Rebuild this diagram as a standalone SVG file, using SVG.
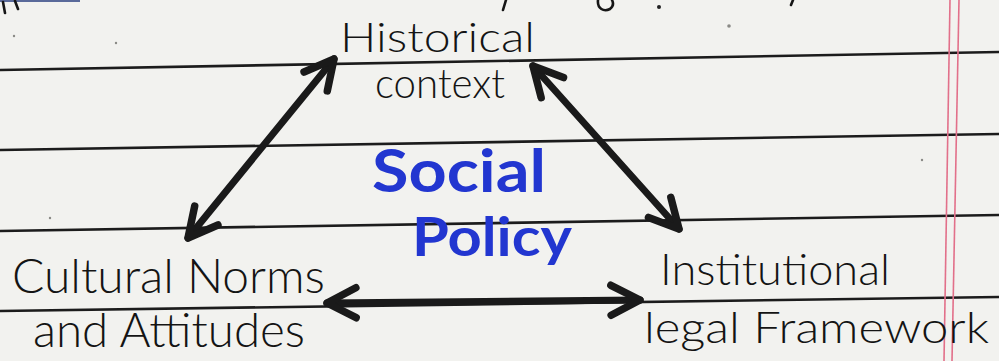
<svg xmlns="http://www.w3.org/2000/svg" width="999" height="361" viewBox="0 0 999 361">
  <style>
    .paper { fill: #f2f2ef; }
    .rule { stroke: #1c1c1c; stroke-width: 2.6; fill: none; }
    .margin { stroke: #e2708a; stroke-width: 1.6; fill: none; }
    .ink { stroke: #161616; stroke-width: 2.6; fill: none; stroke-linecap: round; stroke-linejoin: round; }
    .speck { fill: #8a8a86; }
    .hand { font-family: Lato, "Open Sans", "Liberation Sans", sans-serif; font-weight: 300; fill: #141414; }
    .title { font-family: Lato, "Open Sans", "Liberation Sans", sans-serif; font-weight: 700; fill: #2236d0; }
    .link { stroke: #1a1a1a; stroke-width: 7; fill: none; stroke-linecap: round; }
  </style>
  <defs>
    <marker id="head" markerUnits="userSpaceOnUse" markerWidth="60" markerHeight="60" viewBox="-40 -30 50 60" refX="0" refY="0" orient="auto-start-reverse">
      <path d="M-29,-15 L0,0 L-29,15" fill="none" stroke="#1a1a1a" stroke-width="7.5" stroke-linecap="round" stroke-linejoin="round"/>
    </marker>
  </defs>

  <!-- notebook page -->
  <g id="page">
    <rect class="paper" x="0" y="0" width="999" height="361"/>
    <line class="rule" x1="0" y1="70" x2="999" y2="52"/>
    <line class="rule" x1="0" y1="150" x2="999" y2="134"/>
    <line class="rule" x1="0" y1="231" x2="999" y2="215"/>
    <line class="rule" x1="0" y1="311" x2="999" y2="297"/>
    <line class="margin" x1="950" y1="0" x2="944" y2="361"/>
    <line class="margin" x1="959" y1="0" x2="952" y2="361"/>
    <!-- pen marks left over from the line above -->
    <line x1="0" y1="1" x2="80" y2="1" stroke="#5a6a9a" stroke-width="2"/>
    <path class="ink" d="M3,2 L5,13 M15,1 L18,9" stroke-width="5"/>
    <path class="ink" d="M506,0 L503,10"/>
    <path class="ink" d="M598,0 C597,9 604,12 610,9 C614,6 613,2 612,0" stroke-width="3"/>
    <circle cx="659" cy="7" r="2" fill="#222"/>
    <path class="ink" d="M793,0 L791,5" stroke-width="3"/>
    <circle class="speck" cx="729" cy="26" r="1.8"/>
    <circle class="speck" cx="14" cy="36" r="1.2"/>
    <circle class="speck" cx="50" cy="218" r="1.2"/>
    <circle class="speck" cx="922" cy="160" r="1.2"/>
    <circle class="speck" cx="116" cy="43" r="1.2"/>
  </g>

  <!-- links between the three factors -->
  <g id="connectors">
    <line class="link" x1="334" y1="59" x2="188" y2="238" marker-start="url(#head)" marker-end="url(#head)"/>
    <line class="link" x1="533" y1="66" x2="679" y2="229" marker-start="url(#head)" marker-end="url(#head)"/>
    <line class="link" x1="327" y1="303" x2="640" y2="300" marker-start="url(#head)" marker-end="url(#head)"/>
  </g>

  <g id="historical-context">
    <text class="hand" x="340" y="52" font-size="42" textLength="195" lengthAdjust="spacingAndGlyphs">Historical</text>
    <text class="hand" x="375" y="98" font-size="42" textLength="130" lengthAdjust="spacingAndGlyphs">context</text>
  </g>

  <g id="social-policy">
    <text class="title" x="372" y="192" font-size="60" textLength="174" lengthAdjust="spacingAndGlyphs">Social</text>
    <text class="title" x="412" y="256" font-size="54" textLength="160" lengthAdjust="spacingAndGlyphs">Policy</text>
  </g>

  <g id="cultural-norms">
    <text class="hand" x="12" y="293" font-size="48" textLength="313" lengthAdjust="spacingAndGlyphs">Cultural Norms</text>
    <text class="hand" x="33" y="347" font-size="48" textLength="272" lengthAdjust="spacingAndGlyphs">and Attitudes</text>
  </g>

  <g id="institutional-framework">
    <text class="hand" x="660" y="285" font-size="44" textLength="230" lengthAdjust="spacingAndGlyphs">Institutional</text>
    <text class="hand" x="644" y="343" font-size="44" textLength="345" lengthAdjust="spacingAndGlyphs">legal Framework</text>
  </g>
</svg>
